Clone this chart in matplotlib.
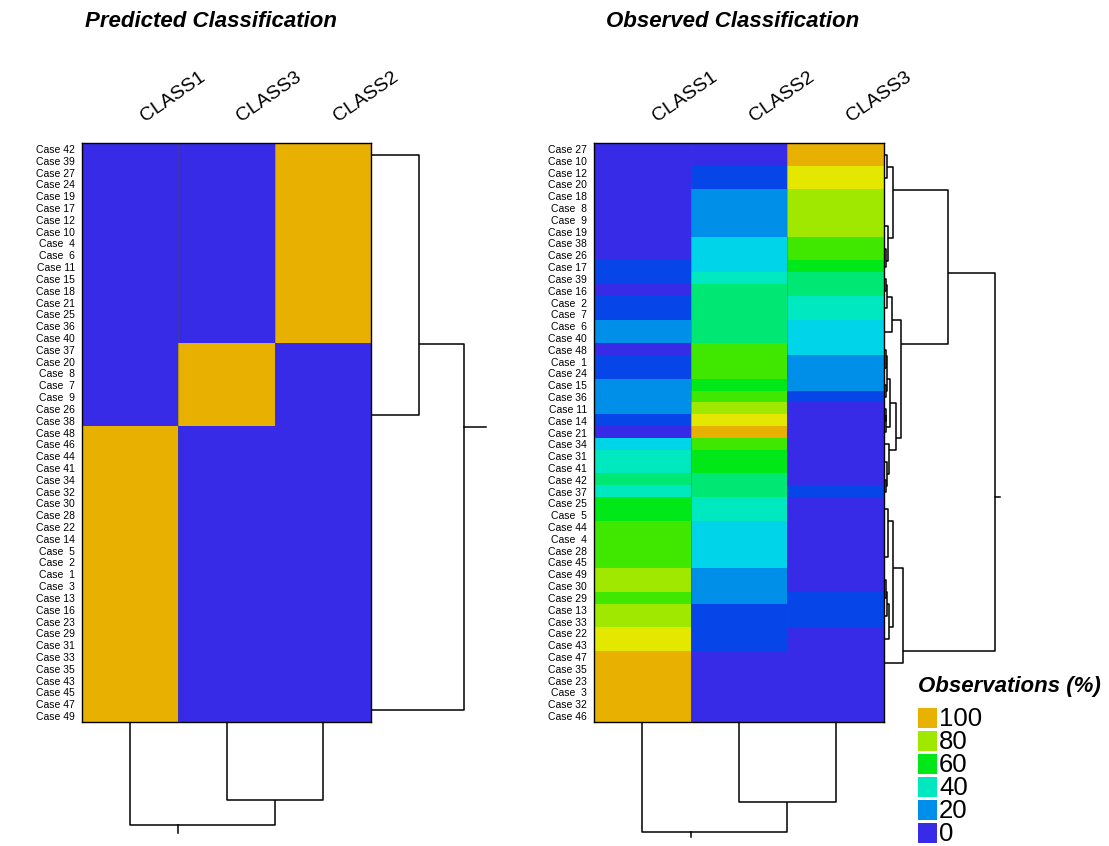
import matplotlib
matplotlib.use('Agg')
import matplotlib.pyplot as plt
import matplotlib.transforms as mtransforms
from matplotlib.colors import ListedColormap
from matplotlib.patches import Rectangle
import numpy as np

plt.rcParams['font.family'] = ['Liberation Sans', 'DejaVu Sans']

# ---------------- data ----------------
PALETTE = ['#372BE8', '#0645E8', '#008FE8', '#00D4E8', '#00E8C0', '#00E874',
           '#00E818', '#40E800', '#A0E800', '#E4E800', '#E8B000']

legend_values = [100, 80, 60, 40, 20, 0]

pred_columns = ['CLASS1', 'CLASS3', 'CLASS2']
pred_cases = [42, 39, 27, 24, 19, 17, 12, 10, 4, 6, 11, 15, 18, 21, 25, 36, 40,
              37, 20, 8, 7, 9, 26, 38,
              48, 46, 44, 41, 34, 32, 30, 28, 22, 14, 5, 2, 1, 3, 13, 16, 23, 29,
              31, 33, 35, 43, 45, 47, 49]
pred_CLASS1 = [0, 0, 0, 0, 0, 0, 0, 0, 0, 0, 0, 0, 0, 0, 0, 0, 0,
               0, 0, 0, 0, 0, 0, 0,
               100, 100, 100, 100, 100, 100, 100, 100, 100, 100, 100, 100, 100,
               100, 100, 100, 100, 100, 100, 100, 100, 100, 100, 100, 100]
pred_CLASS3 = [0, 0, 0, 0, 0, 0, 0, 0, 0, 0, 0, 0, 0, 0, 0, 0, 0,
               100, 100, 100, 100, 100, 100, 100,
               0, 0, 0, 0, 0, 0, 0, 0, 0, 0, 0, 0, 0,
               0, 0, 0, 0, 0, 0, 0, 0, 0, 0, 0, 0]
pred_CLASS2 = [100, 100, 100, 100, 100, 100, 100, 100, 100, 100, 100, 100, 100,
               100, 100, 100, 100,
               0, 0, 0, 0, 0, 0, 0,
               0, 0, 0, 0, 0, 0, 0, 0, 0, 0, 0, 0, 0,
               0, 0, 0, 0, 0, 0, 0, 0, 0, 0, 0, 0]

obs_columns = ['CLASS1', 'CLASS2', 'CLASS3']
obs_cases = [27, 10, 12, 20, 18, 8, 9, 19, 38, 26, 17, 39, 16, 2, 7, 6, 40, 48, 1,
             24, 15, 36, 11, 14, 21, 34, 31, 41, 42, 37, 25, 5, 44, 4, 28, 45, 49,
             30, 29, 13, 33, 22, 43, 47, 35, 23, 3, 32, 46]
obs_CLASS1 = [0, 0, 0, 0, 0, 0, 0, 0, 0, 0,
              10, 10, 0, 10, 10, 20, 20, 0, 10, 10,
              20, 20, 20, 10, 0, 30, 40, 40, 50, 40,
              60, 60, 70, 70, 70, 70, 80, 80, 70, 80,
              80, 90, 90, 100, 100, 100, 100, 100, 100]
obs_CLASS2 = [0, 0, 10, 10, 20, 20, 20, 20, 30, 30,
              30, 40, 50, 50, 50, 50, 50, 70, 70, 70,
              60, 70, 80, 90, 100, 70, 60, 60, 50, 50,
              40, 40, 30, 30, 30, 30, 20, 20, 20, 10,
              10, 10, 10, 0, 0, 0, 0, 0, 0]
obs_CLASS3 = [100, 100, 90, 90, 80, 80, 80, 80, 70, 70,
              60, 50, 50, 40, 40, 30, 30, 30, 20, 20,
              20, 10, 0, 0, 0, 0, 0, 0, 0, 10,
              0, 0, 0, 0, 0, 0, 0, 0, 10, 10,
              10, 0, 0, 0, 0, 0, 0, 0, 0]


# dendrogram trees: [merge height, left, right]; leaves are 1-based row/column numbers
def G(a, b, split='last'):
    """chain of identical rows a..b merged at height 0"""
    if a == b:
        return a
    if split == 'first':
        return [0, a, G(a + 1, b, 'first')]
    return [0, G(a, b - 1, 'last'), b]


pred_row_tree = [93, [48, G(1, 17, 'first'), G(18, 24, 'last')], G(25, 49, 'last')]
pred_col_tree = [103, 1, [78, 2, 3]]

obs_row_tree = [111,
                [64,
                 [9, [3, G(1, 2), G(3, 4)], [4, G(5, 8), [2, G(9, 10), 11]]],
                 [17,
                  [8, [3, [2, 12, 13], G(14, 15)], G(16, 17)],
                  [12,
                   [6, [3, [2, 18, G(19, 20)], [2, 21, 22]], [2, [1.5, 23, 24], 25]],
                   [5, 26, [3, G(27, 28), [2, 29, 30]]]]]],
                [19,
                 [9, [4, G(31, 32), G(33, 36)],
                  [5, [3, [2, G(37, 38), 39], G(40, 41)], G(42, 43)]],
                 G(44, 49, 'first')]]
obs_col_tree = [110, 1, [80, 2, 3]]

# ---------------- figure ----------------
W, H = 1109, 846
fig = plt.figure(figsize=(W / 100, H / 100), dpi=100)
fig.patch.set_facecolor('white')
cmap = ListedColormap(PALETTE)


def px_axes(x0, y0, x1, y1):
    return fig.add_axes([x0 / W, 1 - y1 / H, (x1 - x0) / W, (y1 - y0) / H])


def draw_tree(ax, node, orient):
    if not isinstance(node, list):
        idx = node - 1
        return idx, 0.0, idx, idx
    h, left, right = node
    pl, hl, fl, ll = draw_tree(ax, left, orient)
    pr, hr, fr, lr = draw_tree(ax, right, orient)
    hs = [hl, h, h, hr]
    ps = [pl, pl, pr, pr]
    if orient == 'row':
        ax.plot(hs, ps, color='black', lw=1.1, solid_capstyle='butt')
    else:
        ax.plot(ps, hs, color='black', lw=1.1, solid_capstyle='butt')
    return ll + 0.5, h, fl, lr


def draw_root(ax, tree, orient, stem):
    pos, h, _, _ = draw_tree(ax, tree, orient)
    if orient == 'row':
        ax.plot([h, h + stem], [pos, pos], color='black', lw=1.1)
    else:
        ax.plot([pos, pos], [h, h + stem], color='black', lw=1.1)


def heat_panel(x0, x1, columns, cases, series, row_tree, col_tree,
               title, title_x, row_stem, col_stem, row_w, col_h):
    y0, y1 = 143, 722
    data = np.array(series).T
    nrow, ncol = data.shape
    ax = px_axes(x0, y0, x1, y1)
    ax.imshow(data, cmap=cmap, vmin=-5, vmax=105, aspect='auto',
              interpolation='nearest')
    for j in range(1, ncol):
        ax.axvline(j - 0.5, color='0.3', lw=0.5, alpha=0.5)
    ax.set_xticks([])
    ax.set_yticks(range(nrow))
    ax.set_yticklabels(['Case %2d' % c if c >= 10 else 'Case  %d' % c for c in cases],
                       fontsize=7.5)
    ax.tick_params(axis='y', length=0, pad=5)
    for s in ax.spines.values():
        s.set_color('black')
        s.set_linewidth(1.0)
    off = mtransforms.ScaledTranslation(15 / 100, 21 / 100, fig.dpi_scale_trans)
    for j, name in enumerate(columns):
        ax.text(j, -0.5, name, rotation=35, rotation_mode='anchor', ha='left',
                va='baseline', fontsize=14, transform=ax.transData + off)
    fig.text(title_x / W, 1 - 27 / H, title, fontsize=16, fontweight='bold',
             fontstyle='italic', ha='left', va='baseline')

    # row dendrogram
    axr = px_axes(x1, y0, x1 + row_w, y1)
    axr.set_ylim(nrow - 0.5, -0.5)
    axr.set_xlim(0, row_w)
    draw_root(axr, row_tree, 'row', row_stem)
    axr.axis('off')
    axr.patch.set_alpha(0)

    # column dendrogram
    axc = px_axes(x0, y1, x1, y1 + col_h)
    axc.set_xlim(-0.5, ncol - 0.5)
    axc.set_ylim(col_h, 0)
    draw_root(axc, col_tree, 'col', col_stem)
    axc.axis('off')
    axc.patch.set_alpha(0)


heat_panel(82, 371, pred_columns, pred_cases,
           [pred_CLASS1, pred_CLASS3, pred_CLASS2],
           pred_row_tree, pred_col_tree, 'Predicted Classification', 85,
           row_stem=22, col_stem=8, row_w=130, col_h=124)
heat_panel(594, 884, obs_columns, obs_cases,
           [obs_CLASS1, obs_CLASS2, obs_CLASS3],
           obs_row_tree, obs_col_tree, 'Observed Classification', 606,
           row_stem=5, col_stem=5, row_w=125, col_h=124)

# ---------------- legend ----------------
axl = px_axes(910, 665, W, H)
axl.set_xlim(910, W)
axl.set_ylim(H, 665)
axl.axis('off')
axl.patch.set_alpha(0)
axl.text(918, 686, 'Observations (%)', fontsize=16, fontweight='bold',
         fontstyle='italic', ha='left', va='center')
for i, v in enumerate(legend_values):
    top = 708 + i * 23
    axl.add_patch(Rectangle((918, top), 19, 20, facecolor=PALETTE[v // 10],
                            edgecolor='none'))
    axl.text(939, top + 11, str(v), fontsize=18.5, ha='left', va='center')

fig.savefig('out.png', dpi=100, facecolor='white')
